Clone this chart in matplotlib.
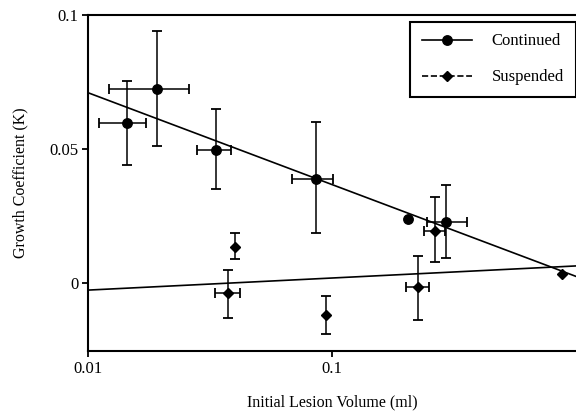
import numpy as np
import matplotlib
matplotlib.use('Agg')
import matplotlib.pyplot as plt
from matplotlib.lines import Line2D
from matplotlib.ticker import NullLocator

plt.rcParams['font.family'] = ['Liberation Serif', 'DejaVu Serif']

# Continued treatment: volume (ml), growth coefficient, error bounds (nan = no bar)
cont_x = [0.0144, 0.0191, 0.0333, 0.0855, 0.2048, 0.2943]
cont_y = [0.0596, 0.0725, 0.0497, 0.0389, 0.0240, 0.0230]
cont_ylo = [0.0441, 0.0512, 0.0351, 0.0186, np.nan, 0.0093]
cont_yhi = [0.0754, 0.0941, 0.0650, 0.0602, np.nan, 0.0366]
cont_xlo = [0.0111, 0.0122, 0.0279, 0.0685, np.nan, 0.2444]
cont_xhi = [0.0172, 0.0259, 0.0385, 0.1009, np.nan, 0.3576]

# Suspended treatment
susp_x = [0.0375, 0.0399, 0.0940, 0.2252, 0.2636, 0.876]
susp_y = [-0.0037, 0.0134, -0.0117, -0.0015, 0.0196, 0.0035]
susp_ylo = [-0.0130, 0.0091, -0.0188, -0.0137, 0.0080, np.nan]
susp_yhi = [0.0050, 0.0186, -0.0047, 0.0102, 0.0321, np.nan]
susp_xlo = [0.0331, np.nan, np.nan, 0.2005, 0.2375, np.nan]
susp_xhi = [0.0418, np.nan, np.nan, 0.2497, 0.2900, np.nan]

# regression lines: K = a + b * log10(volume)
cont_fit = (0.0026, -0.0342)
susp_fit = (0.0065, 0.0045)

fig = plt.figure(figsize=(5.76, 4.13), dpi=100)
ax = fig.add_axes([0.1533, 0.1501, 0.8467, 0.8136])


def draw_errors(x, y, xlo, xhi, ylo, yhi):
    for i in range(len(x)):
        kw = dict(fmt='none', ecolor='black', elinewidth=1.1,
                  capsize=3.5, capthick=1.3, zorder=3)
        if not np.isnan(ylo[i]):
            ax.errorbar(x[i], y[i], yerr=[[y[i] - ylo[i]], [yhi[i] - y[i]]], **kw)
        if not np.isnan(xlo[i]):
            ax.errorbar(x[i], y[i], xerr=[[x[i] - xlo[i]], [xhi[i] - x[i]]], **kw)


draw_errors(cont_x, cont_y, cont_xlo, cont_xhi, cont_ylo, cont_yhi)
draw_errors(susp_x, susp_y, susp_xlo, susp_xhi, susp_ylo, susp_yhi)

xs = np.logspace(-2, 0, 50)
ax.plot(xs, cont_fit[0] + cont_fit[1] * np.log10(xs), color='black', lw=1.2, zorder=2)
ax.plot(xs, susp_fit[0] + susp_fit[1] * np.log10(xs), color='black', lw=1.2, zorder=2)

ax.plot(cont_x, cont_y, 'o', color='black', ms=6.8, zorder=4)
ax.plot(susp_x, susp_y, 'D', color='black', ms=4.8, zorder=4)

ax.set_xscale('log')
ax.set_xlim(0.01, 1.0)
ax.set_ylim(-0.0252, 0.1)
ax.set_xticks([0.01, 0.1], ['0.01', '0.1'])
ax.xaxis.set_minor_locator(NullLocator())
ax.set_yticks([0, 0.05, 0.1], ['0', '0.05', '0.1'])

for s in ['left', 'bottom', 'top']:
    ax.spines[s].set_linewidth(1.5)
ax.spines['right'].set_visible(False)
ax.tick_params(direction='out', length=4.5, width=1.3, labelsize=12, pad=2.5)

ax.set_xlabel('Initial Lesion Volume (ml)', fontsize=11.5, labelpad=13)
ax.set_ylabel('Growth Coefficient (K)', fontsize=11.5, labelpad=15)

handles = [Line2D([], [], color='black', ls='-', lw=1.2, marker='o', ms=6.8),
           Line2D([], [], color='black', ls='--', lw=1.2, marker='D', ms=4.8)]
leg = ax.legend(handles, ['Continued', 'Suspended'], loc='upper right',
                bbox_to_anchor=(0.999, 0.98), borderaxespad=0, fontsize=12,
                handlelength=3.0, handletextpad=1.2, labelspacing=1.2,
                borderpad=0.7, fancybox=False, edgecolor='black', framealpha=1)
leg.get_frame().set_linewidth(1.5)

plt.savefig('out.png', dpi=100)
